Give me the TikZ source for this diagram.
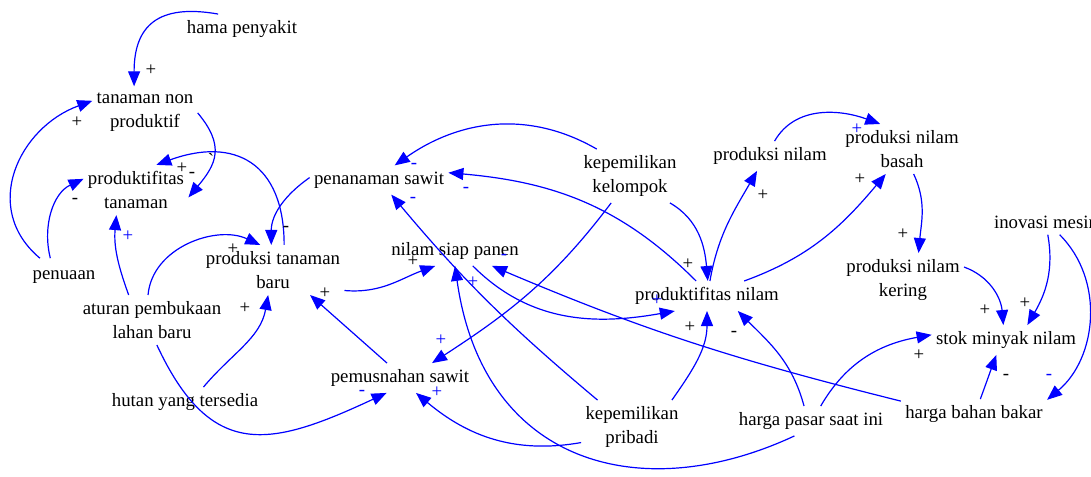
\documentclass[tikz,border=0pt]{standalone}
\usepackage{fontspec}
\setmainfont{Liberation Serif}
\usetikzlibrary{arrows.meta}

\begin{document}
\begin{tikzpicture}[x=0.5pt,y=0.5pt,>={Triangle[length=7.5pt,width=6pt]},
    var/.style={align=center,inner xsep=2pt,inner ysep=3pt,font=\fontsize{9.4}{12}\selectfont},
    cl/.style={->,blue,line width=0.6pt},
    pol/.style={inner sep=0pt,font=\fontsize{9.4}{12}\selectfont}]
      \useasboundingbox (0,0) rectangle (1091,-476);
      \node[var] (hama) at (242,-29) {hama penyakit};
      \node[var] (tnp) at (145,-112) {tanaman non\\produktif};
      \node[var] (prodtan) at (136,-190) {produktifitas\\tanaman};
      \node[var,inner ysep=6pt] (penuaan) at (64,-277) {penuaan};
      \node[var] (aturan) at (152,-320) {aturan pembukaan\\lahan baru};
      \node[var] (ptb) at (273,-270) {produksi tanaman\\baru};
      \node[var] (hutan) at (185,-402) {hutan yang tersedia};
      \node[var] (sawit) at (379,-180) {penanaman sawit};
      \node[var] (nsp) at (455,-251) {nilam siap panen};
      \node[var] (musnah) at (400,-378) {pemusnahan sawit};
      \node[var] (kelompok) at (630,-176) {kepemilikan\\kelompok};
      \node[var] (pribadi) at (632,-427) {kepemilikan\\pribadi};
      \node[var] (prodnil) at (707,-296) {produktifitas nilam};
      \node[var] (pn) at (770,-156) {produksi nilam};
      \node[var] (basah) at (902,-149) {produksi nilam\\basah};
      \node[var] (kering) at (903,-280) {produksi nilam\\kering};
      \node[var] (inovasi) at (1046,-222) {inovasi mesin};
      \node[var] (stok) at (1006,-340) {stok minyak nilam};
      \node[var] (pasar) at (811,-421) {harga pasar saat ini};
      \node[var] (bbm) at (974,-414) {harga bahan bakar};

      \draw[cl] (hama.148) to[out=170,in=90,looseness=1.4] (tnp.113);
      \draw[cl] (penuaan.142) to[out=140,in=200,looseness=1.2] (tnp.168);
      \draw[cl] (penuaan.126) to[out=104,in=205] (prodtan.168);
      \draw[cl] (tnp.-1) to[out=-50,in=50,looseness=1.3] (prodtan.-8);
      \draw[cl] (aturan.133) to[out=110,in=-95] (prodtan.-128);
      \draw[cl] (ptb.66) to[out=90,in=20,looseness=1.4] (prodtan.51);
      \draw[cl] (sawit.178) to[out=215,in=90] (ptb.94);
      \draw[cl] (aturan.99) to[out=85,in=155] (ptb.117);
      \draw[cl] (hutan.39) to[out=50,in=-100] (ptb.-101);
      \draw[cl] (aturan.-79) to[out=-65,in=205,looseness=1.4] (musnah.-132);
      \draw[cl] (ptb.-16) to[out=-5,in=200] (nsp.-143);
      \draw[cl] (musnah.131) -- (ptb.-34);
      \draw[cl] (pribadi.142) to[out=140,in=-50] (sawit.-50);
      \draw[cl] (prodnil.126) to[out=135,in=-5] (sawit.6);
      \draw[cl] (kelompok.141) to[out=150,in=35] (sawit.43);
      \draw[cl] (kelompok.-125) to[out=-127,in=33] (musnah.25);
      \draw[cl] (kelompok.-34) to[out=-30,in=95] (prodnil.87);
      \draw[cl] (nsp.-40) to[out=-45,in=190] (prodnil.-155);
      \draw[cl] (bbm.170) to[out=166,in=-23] (nsp.-22);
      \draw[cl] (pasar.-138) to[out=205,in=-82,out distance=85pt,in distance=100pt] (nsp.-90);
      \draw[cl] (pribadi.-163) to[out=190,in=-40] (musnah.-43);
      \draw[cl] (pribadi.34) to[out=55,in=-90] (prodnil.-90);
      \draw[cl] (pasar.115) to[out=105,in=-45] (prodnil.-26);
      \draw[cl] (prodnil.79) to[out=80,in=-120] (pn.-131);
      \draw[cl] (prodnil.22) to[out=20,in=-130] (basah.-123);
      \draw[cl] (pn.73) to[out=60,in=160] (basah.131);
      \draw[cl] (basah.-65) to[out=-65,in=85] (kering.60);
      \draw[cl] (kering.12) to[out=-20,in=95] (stok.100);
      \draw[cl] (inovasi.-82) to[out=-80,in=60] (stok.35);
      \draw[cl] (inovasi.-43) to[out=-45,in=40] (bbm.11);
      \draw[cl] (bbm.67) to[out=70,in=-110] (stok.-123);
      \draw[cl] (pasar.57) to[out=60,in=190] (stok.176);

      \foreach \px/\py/\s [count=\i] in {151/70/+, 77/122/+, 75/201/-, 192/175/-, 182/168/+,
          286/229/-, 233/249/+, 245/308/+, 325/293/+, 413/261/+, 688/264/+, 690/327/+,
          734/334/-, 763/195/+, 860/179/+, 903/234/+, 985/310/+, 1025/303/+, 1006/377/-, 919/355/+}
        \node[pol] (pk\i) at (\px,-\py) {\s};
      \foreach \px/\py/\s [count=\i] in {128/236/+, 362/393/-, 437/392/+, 441/340/+, 414/166/-,
          413/200/-, 466/190/-, 473/282/+, 504/257/-, 657/300/+, 857/129/+, 1049/377/-}
        \node[pol,blue] (pb\i) at (\px,-\py) {\s};
      \node[pol] (tick) at (211,-160) {\textasciigrave};
    \end{tikzpicture}
\end{document}
